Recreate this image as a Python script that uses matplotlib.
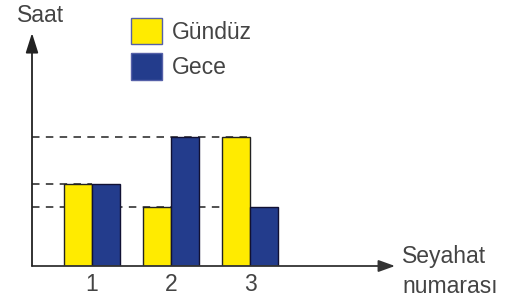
import matplotlib
matplotlib.use("Agg")
import matplotlib.pyplot as plt
from matplotlib.patches import Patch

trips = [1, 2, 3]
tick_labels = ["1", "2", "3"]
gunduz = [7, 5, 11]
gece = [7, 11, 5]
series_names = ["Gündüz", "Gece"]

W, H = 521, 303
plt.rcParams['font.family'] = ['Liberation Sans', 'DejaVu Sans']
fig = plt.figure(figsize=(W / 100, H / 100), dpi=100)

FS = 16.5

# axes placement in pixels
left_px, right_px = 32, 395
base_px, top_px = 266, 33
ax = fig.add_axes([left_px / W, (H - base_px) / H, (right_px - left_px) / W, (base_px - top_px) / H])
ax.set_xlim(0.241, 4.835)
ax.set_ylim(0, 19.8)
for s in ax.spines.values():
    s.set_visible(False)
ax.set_yticks([])

bw = 0.354
yellow = "#FFEB00"
blue = "#233C8C"
txt = "#444444"

ax.bar([t - bw / 2 for t in trips], gunduz, width=bw, color=yellow, edgecolor="#222222", linewidth=1.0, zorder=3)
ax.bar([t + bw / 2 for t in trips], gece, width=bw, color=blue, edgecolor="#111133", linewidth=1.0, zorder=3)

# dashed reference lines
x0 = ax.get_xlim()[0]
for lvl, xe in [(11, 3), (7, 1), (5, 3)]:
    ax.plot([x0, xe], [lvl, lvl], linestyle=(0, (4.5, 3.8)), color="#333333", linewidth=1.2, zorder=1)

# axes with arrows
ax.annotate("", xy=(1, 0), xytext=(0, 0), xycoords="axes fraction",
            arrowprops=dict(arrowstyle="-|>,head_length=1.0,head_width=0.36", color="#333333", lw=1.3, shrinkA=0, shrinkB=0))
ax.annotate("", xy=(0, 1), xytext=(0, 0), xycoords="axes fraction",
            arrowprops=dict(arrowstyle="-|>,head_length=1.2,head_width=0.38", color="#222222", lw=1.3, shrinkA=0, shrinkB=0))

ax.set_xticks(trips)
ax.set_xticklabels(tick_labels, fontsize=FS, color=txt)
ax.tick_params(axis="x", length=0, pad=5)

fig.text(17 / W, 1 - 22 / H, "Saat", fontsize=FS, color=txt, ha="left", va="baseline")
fig.text(402 / W, 1 - 263 / H, "Seyahat", fontsize=FS, color=txt, ha="left", va="baseline")
fig.text(402 / W, 1 - 293 / H, "numarası", fontsize=FS, color=txt, ha="left", va="baseline")

handles = [Patch(facecolor=yellow, edgecolor="#5560a8", linewidth=1.0),
           Patch(facecolor=blue, edgecolor="#5560a8", linewidth=1.0)]
fig.legend(handles, series_names, loc="upper left", bbox_to_anchor=(131 / W, 1 - 18 / H),
           frameon=False, fontsize=FS, handlelength=1.35, handleheight=1.38,
           labelspacing=0.4, handletextpad=0.44, borderpad=0, borderaxespad=0,
           labelcolor=txt)

fig.savefig("out.png", dpi=100)
